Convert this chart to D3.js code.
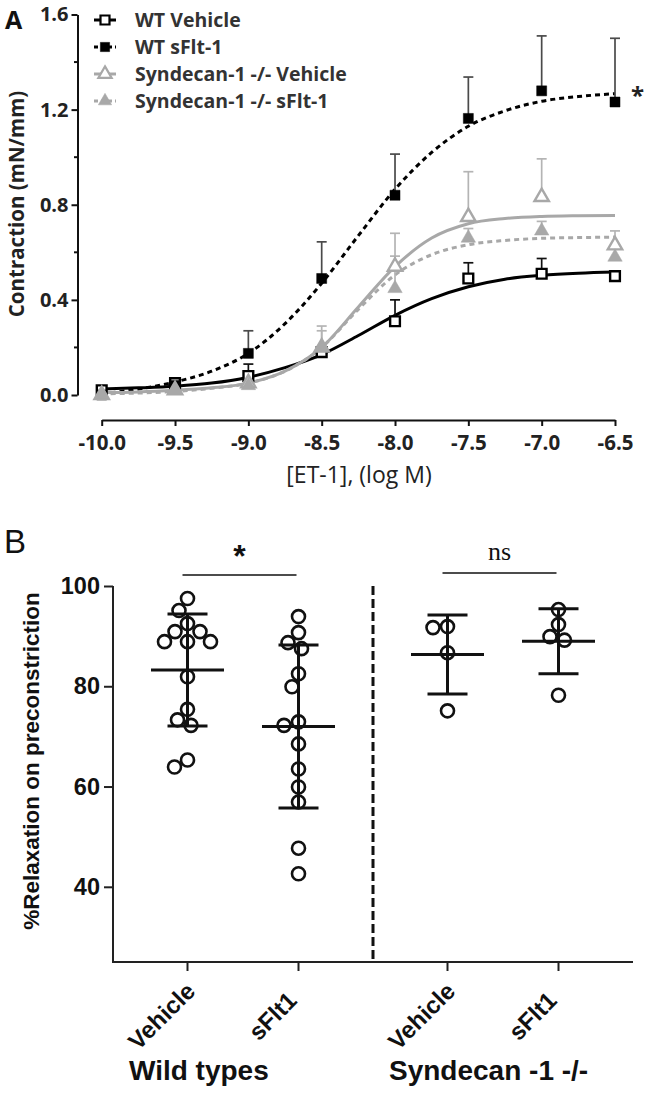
<!DOCTYPE html>
<html><head><meta charset="utf-8">
<script src="https://cdn.jsdelivr.net/npm/d3@7"></script>
<style>body{margin:0;background:#fff}</style>
</head><body>
<svg id="c" width="645" height="1095" xmlns="http://www.w3.org/2000/svg"></svg>
<script>
// ---------- Panel A data ----------
const logDose = [-10, -9.5, -9, -8.5, -8, -7.5, -7, -6.5];
const yTicksA = [0, 0.4, 0.8, 1.2, 1.6];
const yMinorA = [0.2, 0.6, 1.0, 1.4];
const wtVehicleMean = [0.02, 0.05, 0.08, 0.18, 0.31, 0.49, 0.51, 0.50];
const wtVehicleSem  = [0.01, 0.01, 0.05, 0.02, 0.09, 0.066, 0.064, 0.015];
const wtSfltMean    = [0.00, 0.04, 0.175, 0.49, 0.84, 1.163, 1.279, 1.232];
const wtSfltSem     = [0.005, 0.01, 0.095, 0.154, 0.173, 0.174, 0.231, 0.268];
const synVehicleMean = [0.00, 0.02, 0.05, 0.20, 0.54, 0.749, 0.833, 0.63];
const synVehicleSem  = [0.005, 0.01, 0.02, 0.09, 0.14, 0.19, 0.16, 0.06];
const synSfltMean    = [0.00, 0.02, 0.04, 0.20, 0.448, 0.66, 0.69, 0.58];
const synSfltSem     = [0.005, 0.01, 0.02, 0.07, 0.136, 0.04, 0.04, 0.04];
// fitted curves
const fitDose = [-10, -9.75, -9.5, -9.25, -9, -8.75, -8.5, -8.25, -8, -7.75, -7.5, -7.25, -7, -6.75, -6.5];
const wtVehicleFit = [0.025, 0.03, 0.037, 0.05, 0.075, 0.115, 0.17, 0.25, 0.335, 0.405, 0.455, 0.487, 0.503, 0.512, 0.517];
const wtSfltFit    = [0.005, 0.025, 0.055, 0.10, 0.175, 0.30, 0.47, 0.67, 0.865, 1.02, 1.13, 1.195, 1.235, 1.255, 1.267];
const synVehicleFit = [0.01, 0.013, 0.02, 0.03, 0.05, 0.10, 0.20, 0.37, 0.54, 0.66, 0.72, 0.742, 0.751, 0.754, 0.755];
const synSfltFit    = [0.005, 0.008, 0.015, 0.028, 0.05, 0.10, 0.20, 0.36, 0.505, 0.59, 0.632, 0.65, 0.659, 0.662, 0.664];
const seriesNamesA = ["WT Vehicle", "WT sFlt-1", "Syndecan-1 -/- Vehicle", "Syndecan-1 -/- sFlt-1"];

// ---------- Panel B data ----------
const groupsB = ["Wild types", "Syndecan -1 -/-"];
const treatmentsB = ["Vehicle", "sFlt1"];
const yTicksB = [40, 60, 80, 100];
const wtVehicleRelax = [97.5, 95.1, 92.5, 90.9, 90.9, 88.9, 88.9, 88.9, 81.9, 75.4, 73.3, 72.2, 63.9, 65.3];
const wtSfltRelax = [93.9, 90.7, 88.7, 87.5, 82.5, 79.9, 72.9, 72.2, 68.5, 63.5, 59.9, 56.9, 47.7, 42.6];
const synVehicleRelax = [91.7, 91.9, 86.7, 75.1];
const synSfltRelax = [95.3, 92.3, 89.9, 89.2, 78.2];
const significance = ["*", "ns"];

const svg = d3.select("#c");
svg.append("rect").attr("width", 645).attr("height", 1095).attr("fill", "#fff");

// =============== PANEL A ===============
const fontA = "'Open Sans', sans-serif";
const xA = d3.scaleLinear().domain([-10, -6.5]).range([101.7, 615]);
const yA = d3.scaleLinear().domain([0, 1.6]).range([395, 14.5]);
const gA = svg.append("g");

const seriesA = [
  {name: seriesNamesA[0], mean: wtVehicleMean, sem: wtVehicleSem, fit: wtVehicleFit, color: "#000", err: "#111", dash: null, sym: d3.symbolSquare, size: 95, filled: false},
  {name: seriesNamesA[1], mean: wtSfltMean, sem: wtSfltSem, fit: wtSfltFit, color: "#000", err: "#4a4a4a", dash: "5,4", sym: d3.symbolSquare, size: 100, filled: true},
  {name: seriesNamesA[2], mean: synVehicleMean, sem: synVehicleSem, fit: synVehicleFit, color: "#a8a8a8", err: "#b4b4b4", dash: null, sym: d3.symbolTriangle, size: 90, filled: false},
  {name: seriesNamesA[3], mean: synSfltMean, sem: synSfltSem, fit: synSfltFit, color: "#a8a8a8", err: "#b4b4b4", dash: "5,4", sym: d3.symbolTriangle, size: 90, filled: true}
];

// axes
const axYA = gA.append("g").attr("transform", "translate(77.5,0)")
  .call(d3.axisLeft(yA).tickValues(yTicksA).tickFormat(d => d.toFixed(1)).tickSize(6).tickSizeOuter(0).tickPadding(3));
axYA.selectAll(".tick line").attr("stroke", "#111").attr("stroke-width", 2);
axYA.select(".domain").attr("stroke", "#111").attr("stroke-width", 2);
axYA.selectAll("text").attr("font-family", fontA).attr("font-weight", 700).attr("font-size", 20).attr("fill", "#222");
gA.append("g").selectAll("line").data(yMinorA).join("line")
  .attr("x1", 74).attr("x2", 77.5).attr("y1", d => yA(d)).attr("y2", d => yA(d))
  .attr("stroke", "#111").attr("stroke-width", 2);

const axXA = gA.append("g").attr("transform", "translate(0,420)")
  .call(d3.axisBottom(xA).tickValues(logDose).tickFormat(d => d.toFixed(1)).tickSize(6).tickSizeOuter(0).tickPadding(9));
axXA.selectAll(".tick line").attr("stroke", "#111").attr("stroke-width", 2);
axXA.select(".domain").attr("stroke", "#111").attr("stroke-width", 2);
axXA.selectAll("text").attr("font-family", fontA).attr("font-weight", 700).attr("font-size", 20.5).attr("fill", "#222");

gA.append("text").attr("transform", "translate(24,204) rotate(-90)").attr("text-anchor", "middle")
  .attr("font-family", fontA).attr("font-weight", 700).attr("font-size", 20.5).attr("fill", "#222")
  .text("Contraction (mN/mm)");
gA.append("text").attr("x", 359).attr("y", 483).attr("text-anchor", "middle")
  .attr("font-family", fontA).attr("font-size", 23).attr("fill", "#222").text("[ET-1], (log M)");
gA.append("text").attr("x", 5).attr("y", 29).attr("font-family", fontA).attr("font-weight", 700)
  .attr("font-size", 25).attr("fill", "#111").text("A");

// curves
const lineA = d3.line().x(d => xA(d[0])).y(d => yA(d[1])).curve(d3.curveMonotoneX);
seriesA.forEach(s => {
  gA.append("path").datum(fitDose.map((x, i) => [x, s.fit[i]]))
    .attr("d", lineA).attr("fill", "none").attr("stroke", s.color)
    .attr("stroke-width", 3).attr("stroke-dasharray", s.dash);
});
// error bars (upper SEM)
seriesA.forEach(s => {
  const g = gA.append("g").attr("stroke", s.err).attr("stroke-width", 1.7);
  logDose.forEach((x, i) => {
    const top = yA(s.mean[i] + s.sem[i]);
    g.append("line").attr("x1", xA(x)).attr("x2", xA(x)).attr("y1", yA(s.mean[i])).attr("y2", top);
    g.append("line").attr("x1", xA(x) - 5).attr("x2", xA(x) + 5).attr("y1", top).attr("y2", top);
  });
});
// markers
seriesA.forEach(s => {
  gA.append("g").selectAll("path").data(logDose).join("path")
    .attr("transform", (x, i) => `translate(${xA(x)},${yA(s.mean[i])})`)
    .attr("d", d3.symbol(s.sym, s.size))
    .attr("fill", s.filled ? s.color : "#fff").attr("stroke", s.color).attr("stroke-width", s.filled ? 0.5 : 2.4);
});
// significance star
gA.append("text").attr("x", 631).attr("y", 104).attr("font-family", fontA).attr("font-weight", 700)
  .attr("font-size", 24).attr("fill", "#222").text("*");

// legend
const leg = gA.append("g");
seriesA.forEach((s, i) => {
  const y = 20 + i * 27;
  leg.append("line").attr("x1", 94).attr("x2", 116).attr("y1", y).attr("y2", y)
    .attr("stroke", s.color).attr("stroke-width", 3).attr("stroke-dasharray", s.dash ? "4,3" : null);
  leg.append("path").attr("transform", `translate(105,${y})`).attr("d", d3.symbol(s.sym, s.size * 0.85))
    .attr("fill", s.filled ? s.color : "#fff").attr("stroke", s.color).attr("stroke-width", s.filled ? 0.5 : 2.2);
  leg.append("text").attr("x", 135).attr("y", y).attr("dy", "0.35em")
    .attr("font-family", fontA).attr("font-weight", 700).attr("font-size", 19.5).attr("fill", "#333").text(s.name);
});

// =============== PANEL B ===============
const fontB = "'Liberation Sans', Arial, sans-serif";
const gB = svg.append("g");
const yB = d3.scaleLinear().domain([25, 100]).range([962, 586]);
const groupX = d3.scalePoint().domain(groupsB).range([113, 633]).padding(0.5);
const innerX = d3.scalePoint().domain(treatmentsB).range([-55.5, 55.5]);
const catX = (g, t) => groupX(g) + innerX(t);
const dataB = [
  {group: groupsB[0], treat: treatmentsB[0], values: wtVehicleRelax},
  {group: groupsB[0], treat: treatmentsB[1], values: wtSfltRelax},
  {group: groupsB[1], treat: treatmentsB[0], values: synVehicleRelax},
  {group: groupsB[1], treat: treatmentsB[1], values: synSfltRelax}
];

// y axis
const axYB = gB.append("g").attr("transform", "translate(113,0)")
  .call(d3.axisLeft(yB).tickValues(yTicksB).tickSize(9).tickSizeOuter(0).tickPadding(4));
axYB.select(".domain").attr("d", `M0,${yB(100)}V${yB(25)}`).attr("stroke", "#222").attr("stroke-width", 2);
axYB.selectAll(".tick line").attr("stroke", "#222").attr("stroke-width", 2);
axYB.selectAll("text").attr("font-family", fontB).attr("font-weight", 700).attr("font-size", 23.5).attr("fill", "#111");
// x axis
gB.append("line").attr("x1", 112).attr("x2", 633).attr("y1", yB(25)).attr("y2", yB(25))
  .attr("stroke", "#222").attr("stroke-width", 2);
gB.append("g").selectAll("line").data(dataB).join("line")
  .attr("x1", d => catX(d.group, d.treat)).attr("x2", d => catX(d.group, d.treat))
  .attr("y1", yB(25)).attr("y2", yB(25) + 9).attr("stroke", "#222").attr("stroke-width", 2);
gB.append("g").selectAll("text").data(dataB).join("text")
  .attr("transform", d => `translate(${catX(d.group, d.treat) - 26},${yB(25) + 54}) rotate(-45)`)
  .attr("text-anchor", "middle").attr("dy", "0.35em")
  .attr("font-family", fontB).attr("font-weight", 700).attr("font-size", 24).attr("fill", "#111")
  .text(d => d.treat);
gB.append("g").selectAll("text").data(groupsB).join("text")
  .attr("x", d => groupX(d) - 114).attr("y", 1080)
  .attr("font-family", fontB).attr("font-weight", 700).attr("font-size", 28).attr("fill", "#111")
  .text(d => d);
gB.append("text").attr("transform", `translate(39,761) rotate(-90)`)
  .attr("text-anchor", "middle").attr("font-family", fontB).attr("font-weight", 700)
  .attr("font-size", 22.5).attr("fill", "#111").text("%Relaxation on preconstriction");
gB.append("text").attr("x", 4).attr("y", 553).attr("font-family", fontB).attr("font-size", 33).attr("fill", "#111").text("B");

// divider
const midX = (groupX(groupsB[0]) + groupX(groupsB[1])) / 2;
gB.append("line").attr("x1", midX).attr("x2", midX).attr("y1", yB(100)).attr("y2", yB(25))
  .attr("stroke", "#111").attr("stroke-width", 3).attr("stroke-dasharray", "9,4");

// mean ± SD
const rB = 6.5;
dataB.forEach(d => {
  const cx = catX(d.group, d.treat);
  const m = d3.mean(d.values), sd = d3.deviation(d.values);
  const g = gB.append("g").attr("stroke", "#111").attr("stroke-width", 3);
  g.append("line").attr("x1", cx).attr("x2", cx).attr("y1", yB(m - sd)).attr("y2", yB(m + sd));
  g.append("line").attr("x1", cx - 36.5).attr("x2", cx + 36.5).attr("y1", yB(m)).attr("y2", yB(m));
  [m - sd, m + sd].forEach(v => g.append("line").attr("x1", cx - 20).attr("x2", cx + 20).attr("y1", yB(v)).attr("y2", yB(v)));
  // swarm layout to avoid overlaps
  const placed = [];
  const order = d.values.map((v, i) => ({v, i})).sort((a, b) => b.v - a.v);
  const minDist = 2 * rB + 1.5;
  order.forEach(p => {
    const y = yB(p.v);
    let off = 0;
    for (let k = 0; k < 400; k++) {
      const o = (k % 2 === 1 ? -1 : 1) * Math.ceil(k / 2) * 0.5;
      if (placed.every(q => Math.hypot(q.x - (cx + o), q.y - y) >= minDist)) { off = o; break; }
    }
    placed.push({x: cx + off, y});
  });
  gB.append("g").selectAll("circle").data(placed).join("circle")
    .attr("cx", p => p.x).attr("cy", p => p.y).attr("r", rB)
    .attr("fill", "none").attr("stroke", "#111").attr("stroke-width", 2.6);
});

// significance bars
const sigY = [575, 573];
groupsB.forEach((g, i) => {
  const x1 = catX(g, treatmentsB[0]) - 5, x2 = catX(g, treatmentsB[1]) - 2;
  gB.append("line").attr("x1", x1).attr("x2", x2).attr("y1", sigY[i]).attr("y2", sigY[i]).attr("stroke", "#111").attr("stroke-width", 1.6);
  gB.append("text").attr("x", (x1 + x2) / 2).attr("y", i === 0 ? 567 : 560).attr("text-anchor", "middle")
    .attr("font-family", i === 0 ? fontB : "'Liberation Serif', serif")
    .attr("font-weight", i === 0 ? 700 : 400).attr("font-size", i === 0 ? 32 : 26).attr("fill", "#111")
    .text(significance[i]);
});
</script>
</body></html>
